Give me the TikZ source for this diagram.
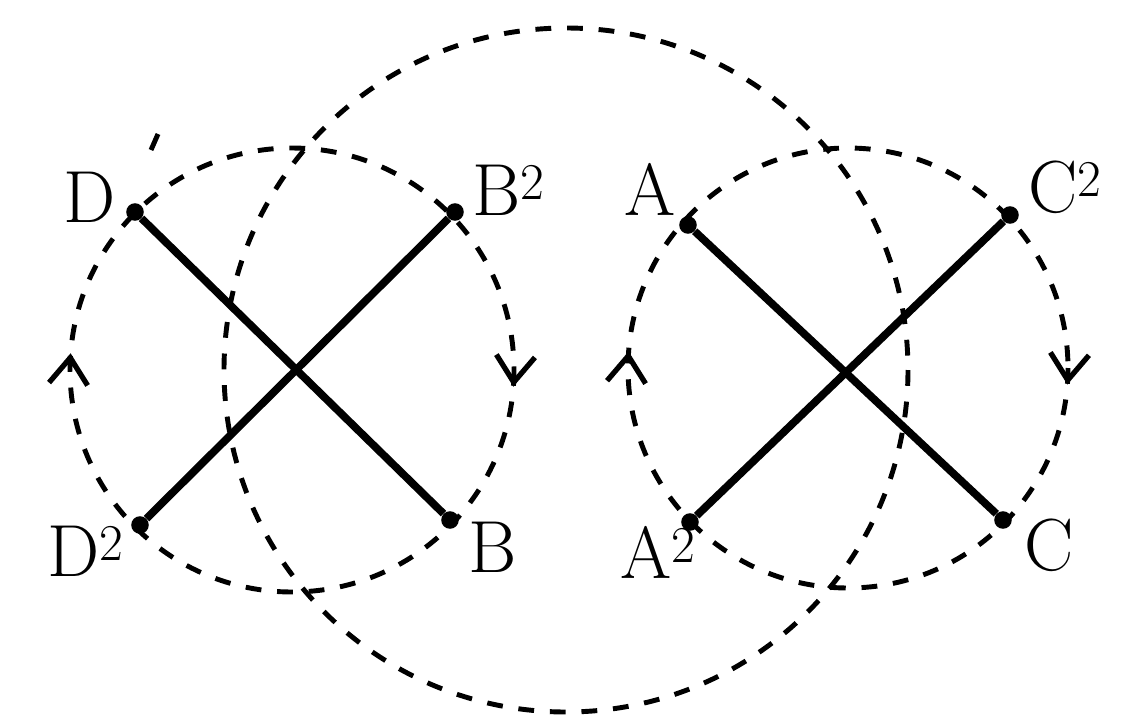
\documentclass[tikz,border=0pt]{standalone}
\usetikzlibrary{arrows.meta,decorations.markings}

\begin{document}
\begin{tikzpicture}[x=0.02cm, y=-0.02cm, every node/.style={font=\fontsize{42}{46}\selectfont}, pt/.style={circle, fill, inner sep=0pt, minimum size=10pt}, bar/.style={line width=4.4pt}, ring/.style={line width=2.8pt, dash pattern=on 9pt off 9pt}, turn/.style={postaction={decorate}, decoration={markings, mark=at position 0.012 with {\arrow{Straight Barb[length=15pt, width=22pt, line width=3pt]}}, mark=at position 0.512 with {\arrow{Straight Barb[length=15pt, width=22pt, line width=3pt]}}}}]
	\useasboundingbox (0,0) rectangle (1130,721);
	\coordinate (xl) at (292,370);
	\coordinate (xr) at (848,368);
	\coordinate (mid) at (566,370);
	\draw[ring, turn] (xl) circle[radius=222];
	\draw[ring, turn] (xr) circle[radius=220];
	\draw[ring] (mid) circle[radius=342];
	\draw[line width=2.8pt] (151,150) -- (158,134);
	\node[pt] (D) at (135,212) {};
	\node[pt] (B2) at (455,212) {};
	\node[pt] (D2) at (140,525) {};
	\node[pt] (B) at (450,520) {};
	\node[pt] (A) at (688,225) {};
	\node[pt] (C2) at (1010,215) {};
	\node[pt] (A2) at (690,522) {};
	\node[pt] (C) at (1003,520) {};
	\draw[bar] (D) -- (B);
	\draw[bar] (B2) -- (D2);
	\draw[bar] (A) -- (C);
	\draw[bar] (C2) -- (A2);
	\node[anchor=base east] (lD) at (122,222) {D};
	\node[anchor=base west] (lB2) at (466,215) {B\textsuperscript{2}};
	\node[anchor=base east] (lD2) at (130,576) {D\textsuperscript{2}};
	\node[anchor=base west] (lB) at (462,572) {B};
	\node[anchor=base east] (lA) at (682,215) {A};
	\node[anchor=base west] (lC2) at (1022,212) {C\textsuperscript{2}};
	\node[anchor=base east] (lA2) at (702,578) {A\textsuperscript{2}};
	\node[anchor=base west] (lC) at (1018,570) {C};
\end{tikzpicture}
\end{document}
